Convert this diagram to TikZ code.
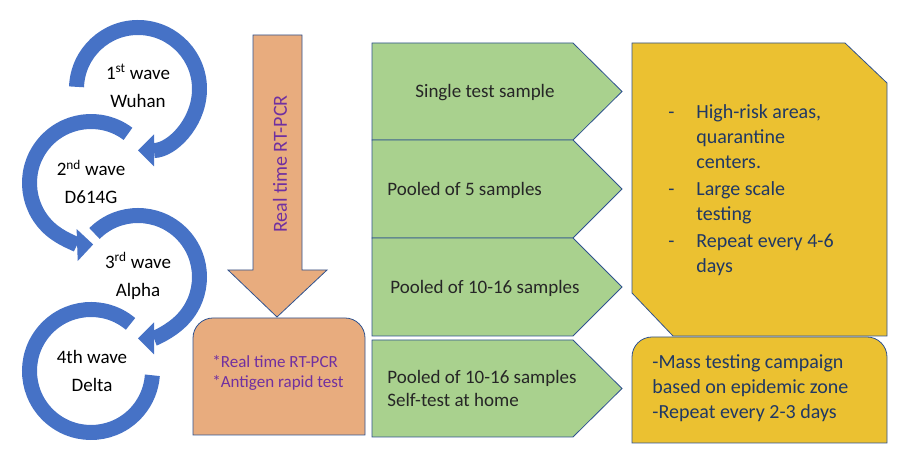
\documentclass[tikz,border=0pt]{standalone}
\usepackage{fontspec}
\setmainfont{Carlito}
\usetikzlibrary{calc,arrows.meta}

\definecolor{waveblue}{HTML}{4672C6}
\definecolor{edgeblue}{HTML}{2F528F}
\definecolor{pcrorange}{HTML}{E8AC7E}
\definecolor{poolgreen}{HTML}{A9D18E}
\definecolor{zonegold}{HTML}{EBC131}
\definecolor{pcrpurple}{HTML}{7030A0}
\definecolor{zonenavy}{HTML}{203864}

\tikzset{
	ring/.style={line width=15pt, draw=waveblue},
	ringtip/.style={-{Triangle[width=32pt,length=16pt,line width=0pt]}},
	wavetext/.style={inner sep=0pt, align=center, font=\fontsize{19}{28}\selectfont},
	pcrbox/.style={fill=pcrorange, draw=edgeblue},
	pool/.style={fill=poolgreen, draw=edgeblue},
	zone/.style={fill=zonegold, draw=edgeblue},
	pooltext/.style={inner sep=0pt, text=black!85, font=\fontsize{19}{23}\selectfont},
	pcrtext/.style={inner sep=0pt, text=pcrpurple},
	zonetext/.style={inner sep=0pt, text=zonenavy, align=left, font=\fontsize{20}{25}\selectfont}
}

\begin{document}
\begin{tikzpicture}[x=1pt,y=1pt,line width=0.8pt]
\useasboundingbox (0,0) rectangle (910,454);
\foreach \i/\x/\y in {1/138/365,2/91/271,3/138/177,4/91/83}{
	\coordinate(c\i) at (\x,\y);
}

\draw[ring,ringtip] ($(c1)+(178:61.5)$) arc[start angle=178,end angle=-90,radius=61.5];
\draw[ring,ringtip] ($(c2)+(53:61.5)$) arc[start angle=53,end angle=272,radius=61.5];
\draw[ring,ringtip] ($(c3)+(135:61.5)$) arc[start angle=135,end angle=-90,radius=61.5];
\draw[ring] ($(c4)+(50:61.5)$) arc[start angle=50,end angle=356,radius=61.5];

\node[wavetext] (w1) at ($(c1)+(0,3)$) {1\textsuperscript{st} wave\\Wuhan};
\node[wavetext] (w2) at ($(c2)+(0,1)$) {2\textsuperscript{nd} wave\\D614G};
\node[wavetext] (w3) at ($(c3)+(0,1)$) {3\textsuperscript{rd} wave\\Alpha};
\node[wavetext] (w4) at ($(c4)+(1,0)$) {4th wave\\Delta};

\draw[pcrbox] (253,419) -- (302,419) -- (302,184) -- (327,184) -- (277,137) -- (228,184) -- (253,184) -- cycle;
\node[pcrtext,rotate=90,font=\fontsize{20}{24}\selectfont] (rt) at (280,290) {Real time RT-PCR};
\draw[pcrbox] (193,19) -- (193,116) arc[start angle=180,end angle=90,radius=20] -- (345,136)
	arc[start angle=90,end angle=0,radius=20] -- (365,19) -- cycle;
\node[pcrtext,anchor=west,align=left,font=\fontsize{17}{20}\selectfont] (kits) at (212,81) {*Real time RT-PCR\\*Antigen rapid test};

\foreach \t/\b in {411/314,314/216,216/118,114/17}{
	\draw[pool] (372,\t) -- (573,\t) -- (622,{(\t+\b)/2}) -- (573,\b) -- (372,\b) -- cycle;
}
\node[pooltext] (s1) at (485,361) {Single test sample};
\node[pooltext,anchor=west] (s2) at (387,264) {Pooled of 5 samples};
\node[pooltext] (s3) at (485,166) {Pooled of 10-16 samples};
\node[pooltext,anchor=west,align=left] (s4) at (387,65.5) {Pooled of 10-16 samples\\Self-test at home};

\draw[zone] (632,411) -- (845,411) -- (887,371) -- (887,118) -- (673,118) -- (632,161) -- cycle;
\node[zonetext,anchor=west] (risk) at (668,263) {\begin{tabular}{@{}p{28pt}@{}l@{}}
	-&High-risk areas,\\ &quarantine\\ &centers.\\[2pt]
	-&Large scale\\ &testing\\[2pt]
	-&Repeat every 4-6\\ &days\end{tabular}};
\draw[zone] (632,11) -- (632,97) arc[start angle=180,end angle=90,radius=20] -- (867,117)
	arc[start angle=90,end angle=0,radius=20] -- (887,11) -- cycle;
\node[zonetext,anchor=west] (mass) at (652,66) {-Mass testing campaign\\based on epidemic zone\\-Repeat every 2-3 days};

\end{tikzpicture}
\end{document}
